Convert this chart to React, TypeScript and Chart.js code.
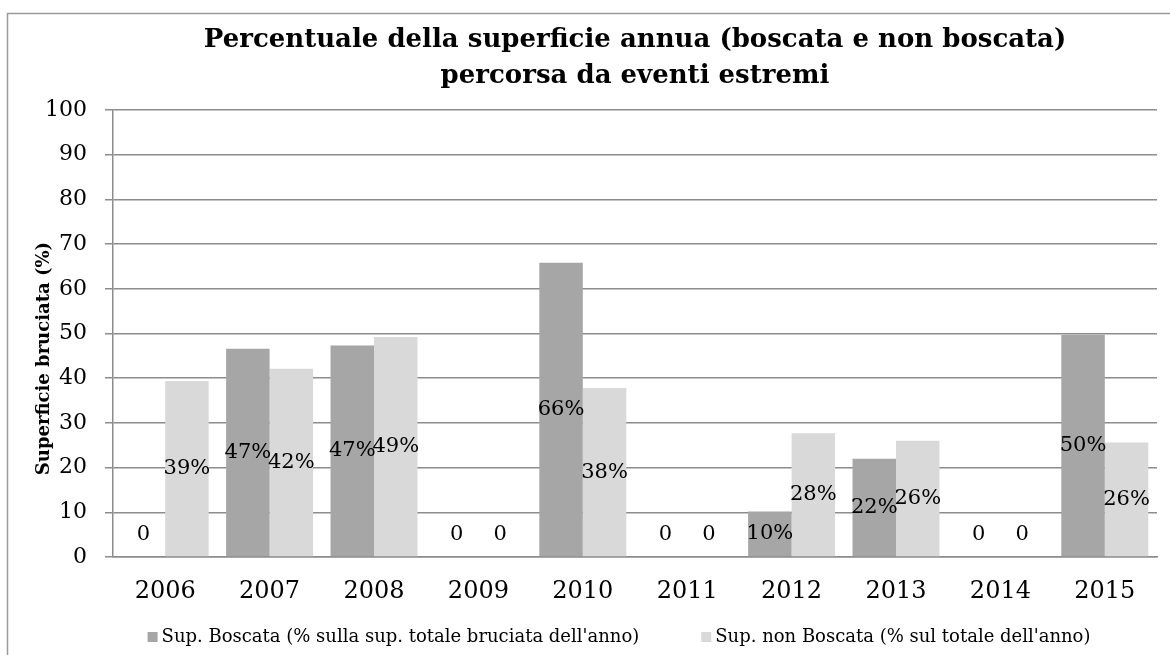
import React, { useEffect, useRef } from "react";
import { Chart, registerables } from "chart.js";

Chart.register(...registerables);

const years = ["2006", "2007", "2008", "2009", "2010", "2011", "2012", "2013", "2014", "2015"];
const boscata = [0, 46.6, 47.3, 0, 65.8, 0, 10.2, 22.0, 0, 49.7];
const nonBoscata = [39.4, 42.1, 49.2, 0, 37.8, 0, 27.7, 26.0, 0, 25.6];
const seriesLabels = [
  "Sup. Boscata (% sulla sup. totale bruciata dell'anno)",
  "Sup. non Boscata (% sul totale dell'anno)",
];
const titleLines = [
  "Percentuale della superficie annua (boscata e non boscata)",
  "percorsa da eventi estremi",
];
const yTitle = "Superficie bruciata (%)";

const FONT = "'DejaVu Serif', 'Liberation Serif', serif";
const DARK = "#a6a6a6";
const LIGHT = "#d9d9d9";
const GRID = "#8c8c8c";

const framePlugin = {
  id: "frame",
  beforeDraw(chart: any) {
    const ctx = chart.ctx;
    ctx.save();
    ctx.fillStyle = "#ffffff";
    ctx.fillRect(0, 0, chart.width, chart.height);
    ctx.strokeStyle = "#9a9a9a";
    ctx.lineWidth = 1.5;
    ctx.strokeRect(7.5, 13.5, chart.width + 50, chart.height + 50);
    ctx.restore();
  },
};

const labelPlugin = {
  id: "barLabels",
  afterDatasetsDraw(chart: any) {
    const ctx = chart.ctx;
    ctx.save();
    ctx.font = `21px ${FONT}`;
    ctx.fillStyle = "#000";
    ctx.textAlign = "center";
    ctx.textBaseline = "middle";
    chart.data.datasets.forEach((ds: any, di: number) => {
      const meta = chart.getDatasetMeta(di);
      meta.data.forEach((bar: any, i: number) => {
        const v = ds.data[i];
        const txt = v > 0 ? `${Math.round(v)}%` : "0";
        const y = v > 0 ? (bar.y + bar.base) / 2 : bar.base - 22;
        ctx.fillText(txt, bar.x, y);
      });
    });
    ctx.restore();
  },
};

const legendPlugin = {
  id: "customLegend",
  afterDraw(chart: any) {
    const ctx = chart.ctx;
    const area = chart.chartArea;
    ctx.save();
    ctx.font = `18px ${FONT}`;
    ctx.textBaseline = "middle";
    ctx.textAlign = "left";
    const box = 10;
    const gapText = 4;
    const gapItem = 62;
    const items = chart.data.datasets.map((ds: any) => ({
      label: ds.label,
      color: ds.backgroundColor,
      w: box + gapText + ctx.measureText(ds.label).width,
    }));
    const total = items.reduce((s: number, it: any) => s + it.w, 0) + gapItem * (items.length - 1);
    const cx = (area.left + area.right) / 2 - 16;
    const cy = area.bottom + 80;
    let x = cx - total / 2;
    items.forEach((it: any) => {
      ctx.fillStyle = it.color;
      ctx.fillRect(x, cy - box / 2, box, box);
      ctx.fillStyle = "#000";
      ctx.fillText(it.label, x + box + gapText, cy);
      x += it.w + gapItem;
    });
    ctx.restore();
  },
};

export default function App() {
  const ref = useRef<HTMLCanvasElement | null>(null);
  useEffect(() => {
    if (!ref.current) return;
    const chart = new Chart(ref.current, {
      type: "bar",
      data: {
        labels: years,
        datasets: [
          { label: seriesLabels[0], data: boscata, backgroundColor: DARK, borderWidth: 0 },
          { label: seriesLabels[1], data: nonBoscata, backgroundColor: LIGHT, borderWidth: 0 },
        ],
      },
      options: {
        animation: false,
        responsive: false,
        devicePixelRatio: 1,
        layout: { padding: { left: 0, right: 13, top: 0, bottom: 0 } },
        datasets: { bar: { categoryPercentage: 0.833, barPercentage: 1 } },
        plugins: {
          legend: { display: false },
          tooltip: { enabled: false },
          title: {
            display: true,
            fullSize: false,
            text: titleLines,
            color: "#000",
            font: { family: FONT, size: 26, weight: "bold", lineHeight: 36 / 26 },
            padding: { top: 22, bottom: 16 },
          },
        },
        scales: {
          x: {
            grid: { display: false, drawTicks: false },
            border: { display: true, color: GRID, width: 1.5 },
            ticks: { color: "#000", font: { family: FONT, size: 24 }, padding: 20, maxRotation: 0 },
            afterFit: (s: any) => { s.height = 98; },
          },
          y: {
            min: 0,
            max: 100,
            ticks: { stepSize: 10, color: "#000", font: { family: FONT, size: 22 }, padding: 18 },
            grid: { color: GRID, lineWidth: 1.5, tickLength: 8, drawTicks: true },
            border: { display: true, color: GRID, width: 1.5 },
            title: {
              display: true,
              text: yTitle + "        ",
              color: "#000",
              font: { family: FONT, size: 18, weight: "bold", lineHeight: 1.2 },
              padding: { top: 34, bottom: 0 },
            },
            afterFit: (s: any) => { s.width = 113; },
          },
        },
      },
      plugins: [framePlugin, labelPlugin, legendPlugin],
    });
    return () => chart.destroy();
  }, []);
  return (
    <div style={{ position: "absolute", left: 0, top: 0, width: 1170, height: 655, overflow: "hidden", background: "#fff" }}>
      <canvas ref={ref} width={1170} height={655} style={{ display: "block" }} />
    </div>
  );
}
